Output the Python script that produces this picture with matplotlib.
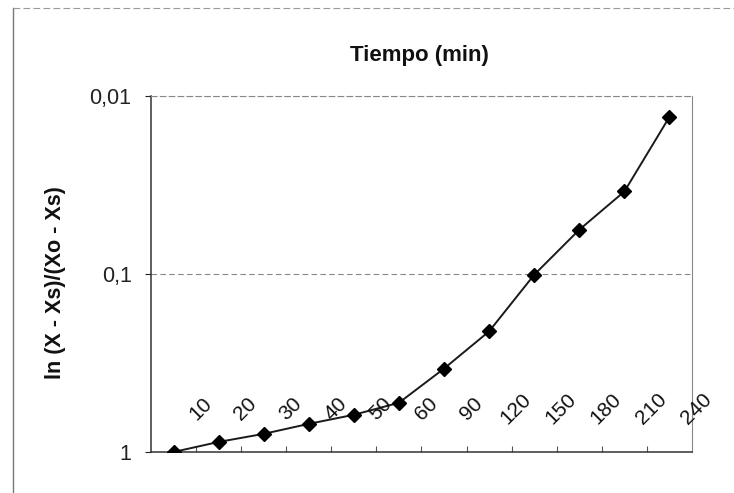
import matplotlib
matplotlib.use("Agg")
import matplotlib.pyplot as plt
import matplotlib.transforms as mtransforms
from matplotlib.lines import Line2D

# datos
tiempos = ['10', '20', '30', '40', '50', '60', '90', '120', '150', '180', '210', '240']
valores = [1.0, 0.878, 0.791, 0.695, 0.618, 0.529, 0.340, 0.210, 0.101, 0.0564, 0.0344, 0.0131]
y_ticks = [0.01, 0.1, 1]
y_tick_labels = ['0,01', '0,1', '1']

plt.rcParams['font.family'] = ['Liberation Sans', 'DejaVu Sans']

fig = plt.figure(figsize=(7.34, 4.93), dpi=100)
ax = fig.add_axes([0.2057, 0.0832, 0.7371, 0.7221])

x = list(range(len(tiempos)))
ax.plot(x, valores, color='#1a1a1a', lw=1.4, marker='D', markersize=7,
        markerfacecolor='black', markeredgecolor='black', zorder=3)

ax.set_yscale('log')
ax.set_ylim(1, 0.01)
ax.set_xlim(-0.5, len(tiempos) - 0.5)
ax.set_yticks(y_ticks)
ax.set_yticklabels(y_tick_labels, fontsize=15.5)
ax.yaxis.set_minor_locator(matplotlib.ticker.NullLocator())
ax.tick_params(axis='y', direction='out', length=4, width=0.8, pad=10, colors='#222222')

# ticks entre categorias, hacia adentro
ax.set_xticks([i + 0.5 for i in x[:-1]])
ax.set_xticklabels([])
ax.tick_params(axis='x', direction='in', length=4, width=0.8, colors='#555555')

ax.grid(axis='y', which='major', color='#888888', ls=(0, (5, 3)), lw=0.8)

for s in ['left', 'bottom']:
    ax.spines[s].set_color('#333333')
    ax.spines[s].set_linewidth(1.1)
ax.spines['right'].set_color('#888888')
ax.spines['right'].set_linewidth(0.8)
ax.spines['top'].set_color('#888888')
ax.spines['top'].set_linestyle((0, (5, 3)))
ax.spines['top'].set_linewidth(0.8)

# etiquetas de categoria dentro del area
trans = mtransforms.blended_transform_factory(ax.transData, ax.transAxes)
for i, t in enumerate(tiempos):
    ax.text(i + 0.6, 0.122, t, transform=trans, rotation=45, ha='center', va='center',
            fontsize=15, color='#111111')

fig.text(0.572, 0.888, 'Tiempo (min)', ha='center', va='center', fontsize=16,
         fontweight='bold', color='#111111')
fig.text(0.075, 0.426, 'ln (X - Xs)/(Xo - Xs)', ha='center', va='center', rotation=90,
         fontsize=15.5, fontweight='bold', color='#111111')

# marco del grafico
fig.add_artist(Line2D([13/734, 13/734], [0.0, 1 - 8/493], transform=fig.transFigure,
                      color='#777777', lw=1.0))
fig.add_artist(Line2D([13/734, 1.0], [1 - 8/493, 1 - 8/493], transform=fig.transFigure,
                      color='#999999', lw=0.8, ls=(0, (6, 3))))

fig.savefig('out.png', dpi=100)
